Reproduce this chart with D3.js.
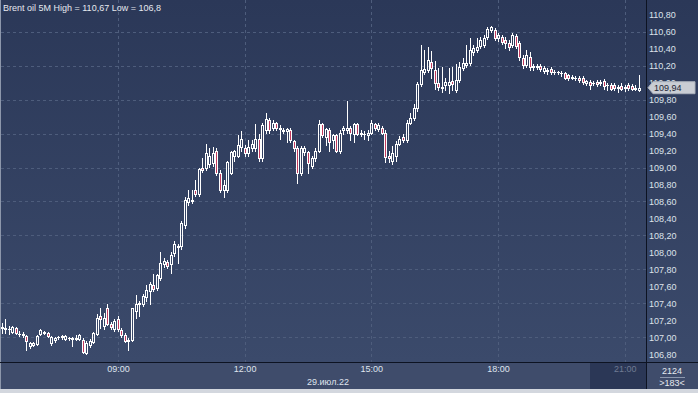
<!DOCTYPE html>
<html>
<head>
<meta charset="utf-8">
<script src="https://cdn.jsdelivr.net/npm/d3@7"></script>
<style>
  body { margin: 0; background: #2f3d5d; }
  svg { display: block; font-family: "Liberation Sans", Arial, sans-serif; }
</style>
</head>
<body>
<div id="chart"></div>
<script>
// Brent oil, 5 minute bars, 29.07.22 starting 06:15
const title = 'Brent oil 5M High = 110,67 Low = 106,8';
const dateLabel = '29.июл.22';
const lastPrice = 109.94;
const barCountText = '2124';
const visibleBarsText = '>183<';

const opens = [
  107.11, 107.10, 107.10, 107.06, 107.11, 107.04, 107.04, 107.02, 106.90, 106.91,
  106.92, 107.04, 107.05, 107.05, 106.93, 106.97, 107.00, 107.00, 106.98, 106.99,
  106.99, 106.98, 106.98, 106.97, 106.82, 106.91, 106.95, 107.04, 107.25, 107.13,
  107.35, 107.16, 107.10, 107.22, 107.09, 107.03, 106.97, 106.97, 107.31, 107.39,
  107.39, 107.47, 107.55, 107.62, 107.58, 107.70, 107.86, 107.89, 107.86, 107.99,
  108.08, 108.07, 108.32, 108.59, 108.61, 108.73, 108.69, 109.00, 108.99, 109.04,
  109.05, 109.19, 108.94, 108.73, 108.73, 108.94, 109.13, 109.14, 109.24, 109.23,
  109.17, 109.23, 109.23, 109.34, 109.11, 109.44, 109.56, 109.47, 109.52, 109.46,
  109.44, 109.43, 109.44, 109.31, 109.23, 108.93, 109.18, 109.18, 109.02, 109.11,
  109.20, 109.51, 109.36, 109.44, 109.32, 109.38, 109.20, 109.44, 109.44, 109.46,
  109.40, 109.51, 109.40, 109.39, 109.38, 109.41, 109.51, 109.45, 109.46, 109.41,
  109.14, 109.08, 109.14, 109.28, 109.36, 109.32, 109.53, 109.58, 109.70, 109.98,
  110.12, 110.15, 110.24, 110.15, 109.99, 109.95, 109.97, 109.97, 110.02, 109.91,
  110.03, 110.17, 110.21, 110.23, 110.36, 110.38, 110.43, 110.44, 110.54, 110.62,
  110.62, 110.53, 110.54, 110.50, 110.47, 110.44, 110.55, 110.47, 110.29, 110.21,
  110.30, 110.18, 110.18, 110.19, 110.14, 110.15, 110.16, 110.12, 110.12, 110.11,
  110.11, 110.09, 110.06, 110.05, 110.05, 110.05, 109.99, 110.01, 109.99, 110.01,
  110.00, 110.02, 109.97, 109.97, 109.97, 109.95, 109.96, 109.94, 109.97, 109.96,
  109.94, 109.91
];
const highs = [
  107.17, 107.21, 107.13, 107.13, 107.12, 107.08, 107.06, 107.03, 106.95, 106.95,
  107.03, 107.10, 107.08, 107.06, 107.02, 107.00, 107.02, 107.03, 107.03, 107.00,
  107.00, 107.03, 107.04, 106.99, 106.96, 106.98, 107.06, 107.28, 107.35, 107.29,
  107.39, 107.18, 107.22, 107.25, 107.11, 107.05, 106.99, 107.35, 107.50, 107.43,
  107.51, 107.62, 107.65, 107.74, 107.75, 108.00, 107.93, 107.91, 108.00, 108.14,
  108.10, 108.37, 108.65, 108.73, 108.74, 108.85, 109.00, 109.11, 109.28, 109.23,
  109.24, 109.23, 108.97, 108.85, 109.08, 109.20, 109.21, 109.38, 109.43, 109.26,
  109.32, 109.32, 109.51, 109.40, 109.53, 109.64, 109.58, 109.56, 109.54, 109.50,
  109.46, 109.46, 109.46, 109.32, 109.25, 109.25, 109.25, 109.20, 109.13, 109.23,
  109.56, 109.52, 109.47, 109.46, 109.40, 109.40, 109.44, 109.49, 109.78, 109.49,
  109.53, 109.53, 109.44, 109.43, 109.44, 109.56, 109.53, 109.52, 109.49, 109.44,
  109.20, 109.25, 109.31, 109.37, 109.40, 109.56, 109.64, 109.75, 110.01, 110.44,
  110.38, 110.42, 110.37, 110.25, 110.17, 110.18, 110.05, 110.17, 110.18, 110.22,
  110.24, 110.29, 110.44, 110.53, 110.44, 110.53, 110.54, 110.56, 110.65, 110.67,
  110.64, 110.58, 110.56, 110.54, 110.50, 110.58, 110.57, 110.49, 110.32, 110.38,
  110.36, 110.22, 110.22, 110.22, 110.19, 110.17, 110.18, 110.15, 110.14, 110.14,
  110.12, 110.10, 110.09, 110.08, 110.08, 110.08, 110.03, 110.03, 110.02, 110.03,
  110.03, 110.04, 109.99, 109.99, 109.99, 109.97, 109.99, 109.97, 109.99, 109.98,
  109.97, 110.09
];
const lows = [
  107.05, 107.05, 107.04, 107.05, 107.04, 107.02, 107.00, 106.85, 106.87, 106.90,
  106.91, 107.03, 107.04, 107.00, 106.91, 106.95, 106.98, 106.98, 106.97, 106.97,
  106.90, 106.97, 106.97, 106.82, 106.80, 106.89, 106.93, 107.03, 107.11, 107.10,
  107.15, 107.10, 107.08, 107.08, 107.00, 106.95, 106.85, 106.96, 107.23, 107.25,
  107.37, 107.43, 107.39, 107.55, 107.56, 107.68, 107.83, 107.82, 107.76, 107.96,
  107.87, 108.04, 108.29, 108.56, 108.58, 108.66, 108.67, 108.95, 108.97, 109.01,
  109.02, 108.91, 108.71, 108.65, 108.71, 108.92, 109.08, 109.12, 109.20, 109.14,
  109.14, 109.20, 109.20, 109.08, 109.08, 109.41, 109.41, 109.44, 109.44, 109.34,
  109.41, 109.30, 109.30, 109.20, 108.82, 108.91, 109.15, 108.94, 108.99, 109.08,
  109.18, 109.36, 109.26, 109.20, 109.23, 109.18, 109.17, 109.40, 109.41, 109.32,
  109.30, 109.38, 109.37, 109.34, 109.32, 109.39, 109.44, 109.43, 109.39, 109.06,
  109.06, 109.04, 109.08, 109.26, 109.30, 109.30, 109.51, 109.56, 109.67, 109.96,
  110.10, 110.12, 110.05, 109.93, 109.91, 109.89, 109.91, 109.88, 109.91, 109.89,
  110.01, 110.15, 110.18, 110.21, 110.32, 110.36, 110.41, 110.42, 110.51, 110.60,
  110.50, 110.49, 110.45, 110.41, 110.38, 110.42, 110.41, 110.27, 110.17, 110.18,
  110.15, 110.15, 110.16, 110.14, 110.11, 110.10, 110.10, 110.10, 110.10, 110.08,
  110.04, 110.03, 110.04, 110.03, 110.01, 109.98, 109.97, 109.93, 109.97, 109.96,
  109.97, 109.93, 109.91, 109.91, 109.91, 109.89, 109.91, 109.90, 109.91, 109.91,
  109.91, 109.90
];
const closes = [
  107.12, 107.11, 107.10, 107.12, 107.05, 107.04, 107.03, 106.96, 106.93, 106.93,
  107.02, 107.09, 107.06, 107.02, 107.00, 106.99, 107.00, 107.01, 107.02, 106.99,
  106.98, 106.99, 107.03, 106.83, 106.93, 106.96, 107.05, 107.23, 107.22, 107.23,
  107.16, 107.12, 107.19, 107.10, 107.03, 106.96, 106.96, 107.34, 107.39, 107.40,
  107.49, 107.56, 107.63, 107.57, 107.73, 107.87, 107.90, 107.84, 107.97, 108.10,
  108.06, 108.35, 108.62, 108.64, 108.62, 108.69, 108.98, 108.97, 109.17, 109.14,
  109.17, 108.93, 108.73, 108.79, 109.06, 109.18, 109.19, 109.26, 109.34, 109.17,
  109.24, 109.28, 109.34, 109.11, 109.50, 109.57, 109.44, 109.53, 109.46, 109.45,
  109.43, 109.45, 109.32, 109.23, 108.93, 109.23, 109.23, 109.05, 109.11, 109.20,
  109.51, 109.38, 109.45, 109.30, 109.38, 109.20, 109.41, 109.46, 109.47, 109.41,
  109.51, 109.40, 109.41, 109.40, 109.41, 109.52, 109.46, 109.50, 109.41, 109.12,
  109.11, 109.17, 109.28, 109.34, 109.32, 109.53, 109.58, 109.70, 109.98, 110.15,
  110.16, 110.27, 110.17, 109.99, 109.95, 109.94, 110.01, 110.01, 109.98, 110.03,
  110.18, 110.23, 110.23, 110.38, 110.41, 110.42, 110.50, 110.53, 110.63, 110.65,
  110.53, 110.56, 110.48, 110.47, 110.42, 110.56, 110.43, 110.30, 110.21, 110.32,
  110.18, 110.19, 110.19, 110.16, 110.17, 110.14, 110.12, 110.13, 110.12, 110.11,
  110.06, 110.05, 110.07, 110.05, 110.03, 110.01, 110.02, 109.97, 109.99, 109.98,
  110.01, 109.96, 109.97, 109.93, 109.94, 109.94, 109.93, 109.95, 109.94, 109.93,
  109.93, 109.94
];

const yTicks = d3.range(106.8, 110.81, 0.2);
const yGrid = d3.range(107.0, 110.61, 0.4);

const W = 698, H = 393;
const plotR = 646, plotB = 362;
const t0 = new Date(2022, 6, 29, 6, 15);
const step = 5 * 60 * 1000;
const times = closes.map((d, i) => new Date(+t0 + i * step));

const x = d3.scaleTime()
  .domain([new Date(+t0 - step / 2), new Date(+times[times.length - 1] + step / 2)])
  .range([0, 640.6]);
const y = d3.scaleLinear().domain([106.8, 110.8]).range([354.3, 14.7]);

const fmt = d => d.toFixed(2).replace('.', ',');

const svg = d3.select('#chart').append('svg')
  .attr('width', W)
  .attr('height', H);

const defs = svg.append('defs');
const grad = defs.append('linearGradient')
  .attr('id', 'bg').attr('x1', 0).attr('x2', 0).attr('y1', 0).attr('y2', 1);
grad.append('stop').attr('offset', '0%').attr('stop-color', '#2b3858');
grad.append('stop').attr('offset', '100%').attr('stop-color', '#3b4a6b');

// panels
svg.append('rect').attr('width', W).attr('height', H).attr('fill', '#2f3d5d');
svg.append('rect').attr('width', plotR).attr('height', plotB).attr('fill', 'url(#bg)');
svg.append('rect').attr('x', plotR + 1).attr('width', W - plotR - 1).attr('height', plotB)
  .attr('fill', 'url(#bg)');
svg.append('rect').attr('y', plotB + 1).attr('width', W).attr('height', 26).attr('fill', '#3f4c6b');
svg.append('rect').attr('x', 590).attr('y', plotB + 1).attr('width', plotR - 590).attr('height', 26)
  .attr('fill', '#2b3756');
svg.append('rect').attr('y', 389).attr('width', W).attr('height', 4).attr('fill', '#d3d7de');
svg.append('rect').attr('width', 1).attr('height', 389).attr('fill', '#8d97ab');

// grid
const grid = svg.append('g')
  .attr('stroke', '#4e5d7c')
  .attr('stroke-dasharray', '3,3')
  .attr('shape-rendering', 'crispEdges');
grid.selectAll('line.h').data(yGrid).enter().append('line')
  .attr('x1', 1).attr('x2', plotR)
  .attr('y1', d => Math.round(y(d)) + 0.5).attr('y2', d => Math.round(y(d)) + 0.5);
grid.selectAll('line.v').data(x.ticks(d3.timeHour.every(3))).enter().append('line')
  .attr('x1', d => Math.round(x(d)) + 0.5).attr('x2', d => Math.round(x(d)) + 0.5)
  .attr('y1', 0).attr('y2', plotB);

// separators
svg.append('line').attr('x1', plotR + 0.5).attr('x2', plotR + 0.5).attr('y1', 0).attr('y2', 389)
  .attr('stroke', '#0d1322');
svg.append('line').attr('x1', 0).attr('x2', W).attr('y1', plotB + 0.5).attr('y2', plotB + 0.5)
  .attr('stroke', '#0d1322');

// candles
const candles = svg.append('g').attr('shape-rendering', 'crispEdges');
const cx = i => Math.round(x(times[i]));
const py = v => Math.round(y(v));

closes.forEach((c, i) => {
  const o = opens[i];
  const xc = cx(i);
  const top = py(Math.max(o, c));
  const bot = py(Math.min(o, c));
  const g = candles.append('g');
  g.append('line')
    .attr('x1', xc + 0.5).attr('x2', xc + 0.5)
    .attr('y1', py(highs[i])).attr('y2', top)
    .attr('stroke', '#ffffff');
  g.append('line')
    .attr('x1', xc + 0.5).attr('x2', xc + 0.5)
    .attr('y1', bot).attr('y2', py(lows[i]) + 1)
    .attr('stroke', '#ffffff');
  if (bot - top < 1) {
    g.append('line')
      .attr('x1', xc - 1).attr('x2', xc + 2)
      .attr('y1', top + 0.5).attr('y2', top + 0.5)
      .attr('stroke', '#ffffff');
  } else {
    g.append('rect')
      .attr('x', xc - 0.5).attr('y', top + 0.5)
      .attr('width', 2).attr('height', bot - top)
      .attr('fill', c < o ? '#c23a5e' : 'none')
      .attr('stroke', '#ffffff');
  }
});

// title
svg.append('text')
  .attr('x', 3).attr('y', 11)
  .attr('font-size', 9)
  .attr('fill', '#e6e9ef')
  .text(title);

// y axis
const yAxis = d3.axisRight(y).tickValues(yTicks).tickSize(0).tickPadding(0).tickFormat(fmt);
const ya = svg.append('g').attr('transform', `translate(${plotR + 3},0)`).call(yAxis);
ya.select('.domain').remove();
ya.selectAll('text')
  .attr('font-size', 9)
  .attr('font-family', '"Liberation Sans", Arial, sans-serif')
  .attr('fill', '#dde2ea');

// last price marker
const ly = y(lastPrice);
svg.append('path')
  .attr('d', `M${plotR + 2},${ly} L${plotR + 7},${ly - 6} L${W - 3},${ly - 6} L${W - 3},${ly + 6} L${plotR + 7},${ly + 6} Z`)
  .attr('fill', '#c9cdd4')
  .attr('stroke', '#aab0bb');
svg.append('text')
  .attr('x', plotR + 8).attr('y', ly + 3.5)
  .attr('font-size', 9)
  .attr('fill', '#1d2433')
  .text(fmt(lastPrice));

// x axis
const xAxis = d3.axisBottom(x)
  .ticks(d3.timeHour.every(3))
  .tickFormat(d3.timeFormat('%H:%M'))
  .tickSize(0).tickPadding(0);
const xa = svg.append('g').attr('transform', `translate(0,${plotB + 3})`).call(xAxis);
xa.select('.domain').remove();
xa.selectAll('text')
  .attr('font-size', 9)
  .attr('font-family', '"Liberation Sans", Arial, sans-serif')
  .attr('dy', '0.8em')
  .attr('fill', d => d.getHours() === 21 ? '#6f7b93' : '#dfe4ee');

svg.append('text')
  .attr('x', 328).attr('y', 385)
  .attr('text-anchor', 'middle')
  .attr('font-size', 9)
  .attr('fill', '#dfe4ee')
  .text(dateLabel);

// bars counter box
svg.append('text')
  .attr('x', 672).attr('y', 374)
  .attr('text-anchor', 'middle')
  .attr('font-size', 9)
  .attr('fill', '#e6e9ef')
  .text(barCountText);
svg.append('line')
  .attr('x1', 660).attr('x2', 685).attr('y1', 377.5).attr('y2', 377.5)
  .attr('stroke', '#8c97ad');
svg.append('text')
  .attr('x', 672).attr('y', 386)
  .attr('text-anchor', 'middle')
  .attr('font-size', 9)
  .attr('fill', '#e6e9ef')
  .text(visibleBarsText);
</script>
</body>
</html>
